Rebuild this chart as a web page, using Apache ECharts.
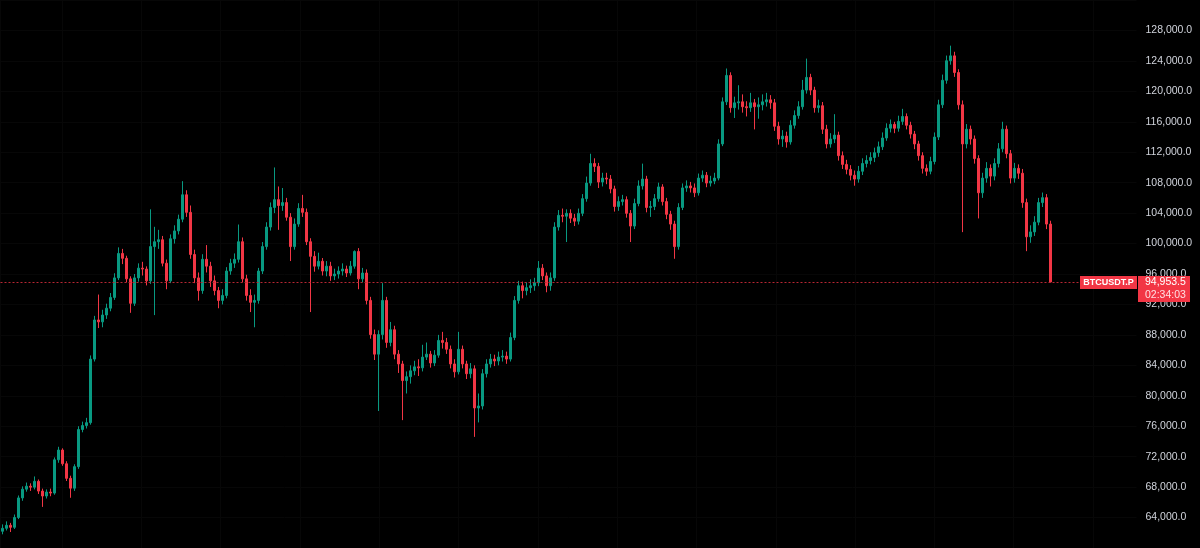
<!DOCTYPE html>
<html>
<head>
<meta charset="utf-8">
<title>BTCUSDT.P</title>
<script src="https://cdn.jsdelivr.net/npm/echarts@6/dist/echarts.min.js"></script>
<style>
  html, body { margin: 0; padding: 0; background: #000; }
  #chart { width: 1200px; height: 548px; }
</style>
</head>
<body>
<div id="chart"></div>
<script>
const symbol = 'BTCUSDT.P'
const lastPrice = 94953.5
const countdown = '02:34:03'

// [open, close, low, high]
const ohlc = [
  [62200, 62590, 61800, 63100], [62590, 62980, 62300, 63500], [62980, 62720, 62100, 63300], [62720, 64010, 62500, 64400],
  [64010, 66580, 63800, 66900], [66580, 67730, 66200, 68100], [67730, 68120, 67400, 68600], [68120, 67990, 67500, 68500],
  [67990, 68760, 67700, 69400], [68760, 67480, 67100, 69000], [67480, 66830, 65400, 67800], [66830, 67350, 66500, 67700],
  [67350, 67220, 66800, 67800], [67220, 71590, 67000, 71900], [71590, 72870, 71200, 73300], [72870, 71070, 70800, 73100],
  [71070, 69150, 68800, 71400], [69150, 67860, 66600, 69500], [67860, 70690, 67500, 71000], [70690, 75570, 70400, 76000],
  [75570, 76090, 75200, 76600], [76090, 76470, 75700, 77100], [76470, 84820, 76200, 85300], [84820, 89960, 84500, 90500],
  [89960, 89710, 88900, 93300], [89710, 90610, 89000, 91300], [90610, 91510, 90100, 92100], [91510, 92920, 91100, 93500],
  [92920, 95490, 92600, 96100], [95490, 98700, 95200, 99500], [98700, 98060, 97300, 99300], [98060, 95360, 94900, 98400],
  [95360, 92150, 90900, 95700], [92150, 95490, 91800, 96000], [95490, 96770, 95000, 97400], [96770, 96650, 95800, 97600],
  [96650, 95100, 94500, 97000], [95100, 99600, 94700, 104500], [99600, 100240, 90600, 102200], [100240, 100500, 99300, 101800],
  [100500, 97420, 97000, 101000], [97420, 95100, 94000, 97900], [95100, 100630, 94800, 101200], [100630, 101660, 100000, 102400],
  [101660, 103200, 101200, 103800], [103200, 106410, 102800, 108200], [106410, 104100, 103500, 107000], [104100, 98570, 98000, 105000],
  [98570, 95490, 94800, 99200], [95490, 93820, 92500, 96200], [93820, 97930, 93400, 98600], [97930, 97030, 96200, 99800],
  [97030, 95100, 94300, 97600], [95100, 93820, 93200, 95800], [93820, 92530, 91500, 94300], [92530, 93180, 92000, 94000],
  [93180, 96390, 92800, 96900], [96390, 97420, 95900, 98000], [97420, 97930, 96800, 98700], [97930, 100240, 97500, 102500],
  [100240, 95360, 94900, 100800], [95360, 93180, 92500, 95900], [93180, 92280, 91000, 94000], [92280, 92530, 89000, 93300],
  [92530, 96390, 92100, 96800], [96390, 99600, 96000, 100200], [99600, 102170, 99200, 102800], [102170, 104740, 101700, 105400],
  [104740, 105770, 104000, 110000], [105770, 105000, 101800, 107500], [105000, 105380, 104300, 107300], [105380, 103460, 103000, 106000],
  [103460, 99600, 97700, 104000], [99600, 102560, 99200, 103300], [102560, 104610, 102200, 105300], [104610, 104100, 103500, 106400],
  [104100, 100240, 99800, 104600], [100240, 98320, 91000, 100700], [98320, 97030, 96300, 99000], [97030, 97670, 96600, 98800],
  [97670, 96390, 95800, 98100], [96390, 97030, 95700, 97700], [97030, 95750, 95100, 97600], [95750, 96000, 95200, 96700],
  [96000, 96390, 95400, 97000], [96390, 96650, 95800, 97400], [96650, 96130, 95600, 97100], [96130, 97030, 95800, 97700],
  [97030, 98960, 96700, 99100], [98960, 95360, 94000, 99400], [95360, 96130, 94900, 96800], [96130, 92530, 92000, 96600],
  [92530, 88040, 87500, 93000], [88040, 85470, 84700, 88700], [85470, 88040, 78000, 88600], [88040, 92530, 87400, 94800],
  [92530, 87010, 86300, 93000], [87010, 88680, 86500, 89700], [88680, 85470, 84800, 89200], [85470, 84180, 83000, 86000],
  [84180, 82000, 76800, 84600], [82000, 82510, 80300, 83200], [82510, 83280, 81600, 84000], [83280, 83800, 82700, 84600],
  [83800, 83670, 82600, 84800], [83670, 85080, 83200, 86700], [85080, 85470, 84700, 87000], [85470, 84310, 83700, 85900],
  [84310, 85340, 83900, 86000], [85340, 87270, 85000, 88000], [87270, 87010, 86200, 88400], [87010, 86110, 85500, 87600],
  [86110, 84180, 83600, 86600], [84180, 83150, 82400, 84800], [83150, 86110, 82800, 88400], [86110, 84180, 83600, 86600],
  [84180, 82900, 82200, 84600], [82900, 83540, 82300, 84300], [83540, 78400, 74600, 84000], [78400, 78660, 76500, 80300],
  [78660, 82900, 78200, 83500], [82900, 84180, 82400, 84800], [84180, 84820, 83700, 85500], [84820, 84570, 83900, 85400],
  [84570, 85080, 84000, 85800], [85080, 85210, 84500, 86000], [85210, 84820, 84200, 85800], [84820, 87650, 84500, 88300],
  [87650, 92530, 87300, 93100], [92530, 94460, 92100, 95100], [94460, 93820, 92800, 95000], [93820, 94200, 93200, 94900],
  [94200, 94460, 93500, 95300], [94460, 94850, 93800, 95500], [94850, 96770, 94400, 97700], [96770, 95750, 95200, 97300],
  [95750, 94460, 93600, 96200], [94460, 95490, 93800, 96200], [95490, 102170, 95100, 102800], [102170, 103710, 101700, 104400],
  [103710, 103590, 102800, 104600], [103590, 103970, 100200, 104500], [103970, 103330, 102700, 104500], [103330, 102940, 102300, 103900],
  [102940, 103970, 102500, 104600], [103970, 105900, 103600, 106500], [105900, 107950, 105500, 108800], [107950, 110520, 107600, 111800],
  [110520, 110140, 109400, 111200], [110140, 108080, 107300, 110600], [108080, 108600, 107500, 109300], [108600, 108470, 107800, 109300],
  [108470, 107180, 106600, 109000], [107180, 104870, 104200, 107600], [104870, 105510, 104300, 106200], [105510, 105770, 105000, 106400],
  [105770, 103970, 103400, 106200], [103970, 102300, 100200, 104400], [102300, 105260, 101900, 105900], [105260, 107570, 104900, 108300],
  [107570, 108470, 107100, 110500], [108470, 104740, 104100, 108900], [104740, 104870, 103500, 105600], [104870, 105900, 104400, 106500],
  [105900, 107440, 105500, 108000], [107440, 105510, 105000, 107800], [105510, 103840, 103200, 106000], [103840, 102560, 101800, 104300],
  [102560, 99600, 98000, 103000], [99600, 104740, 99200, 105300], [104740, 107310, 104400, 107900], [107310, 107570, 106800, 108300],
  [107570, 107310, 106700, 108100], [107310, 106670, 106100, 107900], [106670, 108600, 106300, 109200], [108600, 108980, 108100, 109600],
  [108980, 107950, 107400, 109400], [107950, 108210, 107500, 108900], [108210, 108600, 107800, 109300], [108600, 113090, 108300, 113700],
  [113090, 118620, 112800, 119200], [118620, 122090, 118200, 123000], [122090, 117850, 117200, 122500], [117850, 118490, 116500, 119300],
  [118490, 118620, 117600, 120800], [118620, 117980, 117200, 119600], [117980, 117850, 116700, 118700], [117850, 118490, 117300, 119800],
  [118490, 117980, 115000, 119000], [117980, 118230, 116400, 119200], [118230, 118620, 117500, 119600], [118620, 118880, 118000, 119800],
  [118880, 118490, 117700, 119500], [118490, 115410, 114800, 119000], [115410, 113740, 113000, 116000], [113740, 114120, 112700, 114900],
  [114120, 113350, 112600, 114700], [113350, 115540, 113000, 116200], [115540, 116820, 115100, 117500], [116820, 117980, 116400, 118700],
  [117980, 120160, 117600, 121500], [120160, 121830, 119700, 124300], [121830, 120160, 119500, 122300], [120160, 117850, 117200, 120600],
  [117850, 118110, 117200, 118900], [118110, 115020, 114400, 118600], [115020, 113090, 112500, 115600], [113090, 113740, 112600, 114500],
  [113740, 114250, 113200, 117000], [114250, 111550, 110900, 114700], [111550, 110400, 109800, 112100], [110400, 109750, 109100, 111000],
  [109750, 108980, 108300, 110300], [108980, 108470, 107600, 109600], [108470, 109500, 108000, 110200], [109500, 110520, 109000, 111200],
  [110520, 110910, 110000, 111600], [110910, 111300, 110400, 112000], [111300, 111940, 110700, 112600], [111940, 112710, 111400, 113400],
  [112710, 113870, 112300, 114600], [113870, 115150, 113500, 115800], [115150, 115660, 114600, 116300], [115660, 115150, 114500, 116000],
  [115150, 116050, 114700, 116800], [116050, 116690, 115600, 117700], [116690, 115540, 115000, 117100], [115540, 114380, 113800, 116000],
  [114380, 113090, 112400, 114800], [113090, 111550, 110900, 113500], [111550, 109880, 109200, 112000], [109880, 109500, 108900, 110400],
  [109500, 110780, 109100, 111400], [110780, 113990, 110400, 114600], [113990, 118230, 113600, 118900], [118230, 121450, 117800, 122200],
  [121450, 124020, 121000, 124700], [124020, 124660, 123500, 126000], [124660, 122470, 121900, 125200], [122470, 118230, 117600, 122900],
  [118230, 113090, 101500, 118800], [113090, 115020, 112500, 115700], [115020, 113740, 113000, 115500], [113740, 111170, 110500, 114200],
  [111170, 106670, 103300, 111600], [106670, 108600, 106000, 109300], [108600, 109880, 108000, 110700], [109880, 108860, 107500, 110400],
  [108860, 110520, 108300, 111200], [110520, 112450, 110000, 113200], [112450, 115020, 112000, 116000], [115020, 111810, 111200, 115500],
  [111810, 108600, 107900, 112300], [108600, 109880, 108000, 110600], [109880, 109240, 108500, 110400], [109240, 105380, 104700, 109800],
  [105380, 100890, 99000, 105900], [100890, 101530, 100100, 102400], [101530, 102810, 101000, 103600], [102810, 105380, 102400, 106000],
  [105380, 106030, 104800, 106700], [106030, 102560, 101900, 106500], [102560, 94953.5, 94900, 103000]
]

const slotCount = 284 // candle slots, the rest is empty room on the right
const monthStep = 79.3 // px between the faint vertical grid lines
const lastMonthLine = 1093

const upColor = '#089981'
const downColor = '#f23645'
const gridColor = '#070707'
const textFont = '"Liberation Sans", Arial, sans-serif'

const fmtPrice = v => v.toLocaleString('en-US', { minimumFractionDigits: 1, maximumFractionDigits: 1 })

const chart = echarts.init(document.getElementById('chart'))

chart.setOption({
  backgroundColor: '#000',
  animation: false,
  grid: [
    // half-pixel offset keeps the 1px wicks crisp
    { left: 0.5, right: 63.5, top: -7, bottom: -5 },
    // only carries the vertical grid lines, counted back from the last one
    { left: 0, right: 1200 - lastMonthLine, top: 0, bottom: 0 },
  ],
  xAxis: [
    {
      type: 'category',
      gridIndex: 0,
      data: Array.from({ length: slotCount }, (_, i) => i),
      boundaryGap: true,
      axisLine: { show: false },
      axisTick: { show: false },
      axisLabel: { show: false },
      splitLine: { show: false },
    },
    {
      type: 'value',
      gridIndex: 1,
      inverse: true,
      min: 0,
      max: lastMonthLine,
      interval: monthStep,
      axisLine: { show: false },
      axisTick: { show: false },
      axisLabel: { show: false },
      splitLine: { show: true, lineStyle: { color: gridColor, width: 1 } },
    },
  ],
  yAxis: [
    {
      type: 'value',
      gridIndex: 0,
      position: 'right',
      min: 60000,
      max: 132000,
      interval: 4000,
      axisLine: { show: false },
      axisTick: { show: false },
      axisLabel: {
        margin: 9,
        color: '#d1d4dc',
        fontSize: 10.5,
        fontFamily: textFont,
        showMinLabel: false,
        showMaxLabel: false,
        formatter: fmtPrice,
      },
      splitLine: { show: true, lineStyle: { color: gridColor, width: 1 } },
    },
    {
      type: 'value',
      gridIndex: 1,
      show: false,
      splitLine: { show: false },
    },
  ],
  series: [
    {
      type: 'candlestick',
      xAxisIndex: 0,
      yAxisIndex: 0,
      data: ohlc,
      barWidth: 2.6,
      itemStyle: {
        color: upColor,
        color0: downColor,
        borderColor: upColor,
        borderColor0: downColor,
        borderWidth: 1,
      },
      markLine: {
        silent: true,
        symbol: 'none',
        label: { show: false },
        lineStyle: { color: '#b82633', type: [2, 2], width: 1 },
        data: [{ yAxis: lastPrice }],
      },
    },
  ],
})

// price tag on the right, pinned to the last price
const py = chart.convertToPixel({ yAxisIndex: 0 }, lastPrice)
chart.setOption({
  graphic: [
    {
      type: 'rect',
      z: 100,
      shape: { x: 1080, y: py - 6, width: 57, height: 13 },
      style: { fill: downColor },
    },
    {
      type: 'text',
      z: 101,
      x: 1108.5,
      y: py + 0.5,
      style: { text: symbol, fill: '#fff', fontSize: 9, fontWeight: 'bold', fontFamily: textFont, align: 'center', verticalAlign: 'middle' },
    },
    {
      type: 'rect',
      z: 100,
      shape: { x: 1138, y: py - 6, width: 52, height: 26 },
      style: { fill: downColor },
    },
    {
      type: 'text',
      z: 101,
      x: 1145,
      y: py + 0.5,
      style: { text: fmtPrice(lastPrice), fill: '#fff', fontSize: 10.5, fontFamily: textFont, verticalAlign: 'middle' },
    },
    {
      type: 'text',
      z: 101,
      x: 1145,
      y: py + 13,
      style: { text: countdown, fill: '#ffdfe2', fontSize: 10.5, fontFamily: textFont, verticalAlign: 'middle' },
    },
  ],
})
</script>
</body>
</html>
